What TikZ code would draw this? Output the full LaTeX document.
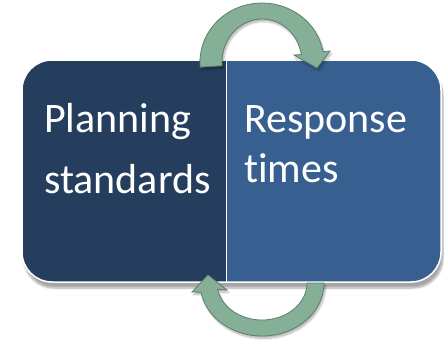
\documentclass[tikz,border=0pt]{standalone}
\usepackage{fontspec}
\setmainfont[Ligatures=NoCommon]{Carlito}
\usetikzlibrary{shadows.blur}
\definecolor{plandark}{HTML}{263E5E}
\definecolor{respblue}{HTML}{375F8F}
\definecolor{cyclefill}{HTML}{86AF98}
\definecolor{cycleedge}{HTML}{5B7F6B}
\tikzset{cyc/.style={fill=cyclefill,draw=cycleedge,line width=0.8pt,
  blur shadow={shadow xshift=1.5pt,shadow yshift=-2.5pt,shadow blur steps=6,shadow opacity=30}},
lab/.style={font=\fontsize{42}{50}\selectfont,text=white,anchor=base west,inner sep=0pt}}

\begin{document}
\begin{tikzpicture}[x=1pt,y=-1pt]
\useasboundingbox (0,0) rectangle (444,340);
% the two halves
\fill[white,rounded corners=30pt,blur shadow={shadow xshift=2pt,shadow yshift=-6pt,shadow blur steps=8,shadow opacity=35}]
 (22,60) rectangle (441,282);
\begin{scope}
\clip[rounded corners=30pt] (22,60) rectangle (441,282);
\fill[plandark] (22,60) rectangle (226.5,282);
\fill[respblue] (226.5,60) rectangle (441,282);
\end{scope}
\draw[white,line width=1.5pt,rounded corners=30pt] (22,60) rectangle (441,282);
\draw[white,line width=1pt] (226.5,60) -- (226.5,282);
\node[lab] (plan) at (44,132) {Planning};
\node[lab] (stand) at (44,193) {standards};
\node[lab] (resp) at (244,132) {Response};
\node[lab] (times) at (244,182) {times};
% arrows
\begin{scope}[shift={(262,62)}]
\path[cyc] (175:62 and 59) arc[start angle=175,end angle=350,x radius=62,y radius=59]
 -- (68,-11) -- (55,6) -- (32,-7)
 -- (350:40 and 43) arc[start angle=350,end angle=175,x radius=40,y radius=43] -- cycle;
\end{scope}
\begin{scope}[shift={(262,283)}]
\path[cyc] (0:62 and 53) arc[start angle=0,end angle=170,x radius=62,y radius=53]
 -- (-70,9) -- (-54,-8) -- (-35,7)
 -- (170:45 and 37) arc[start angle=170,end angle=0,x radius=45,y radius=37] -- cycle;
\end{scope}
\end{tikzpicture}
\end{document}
